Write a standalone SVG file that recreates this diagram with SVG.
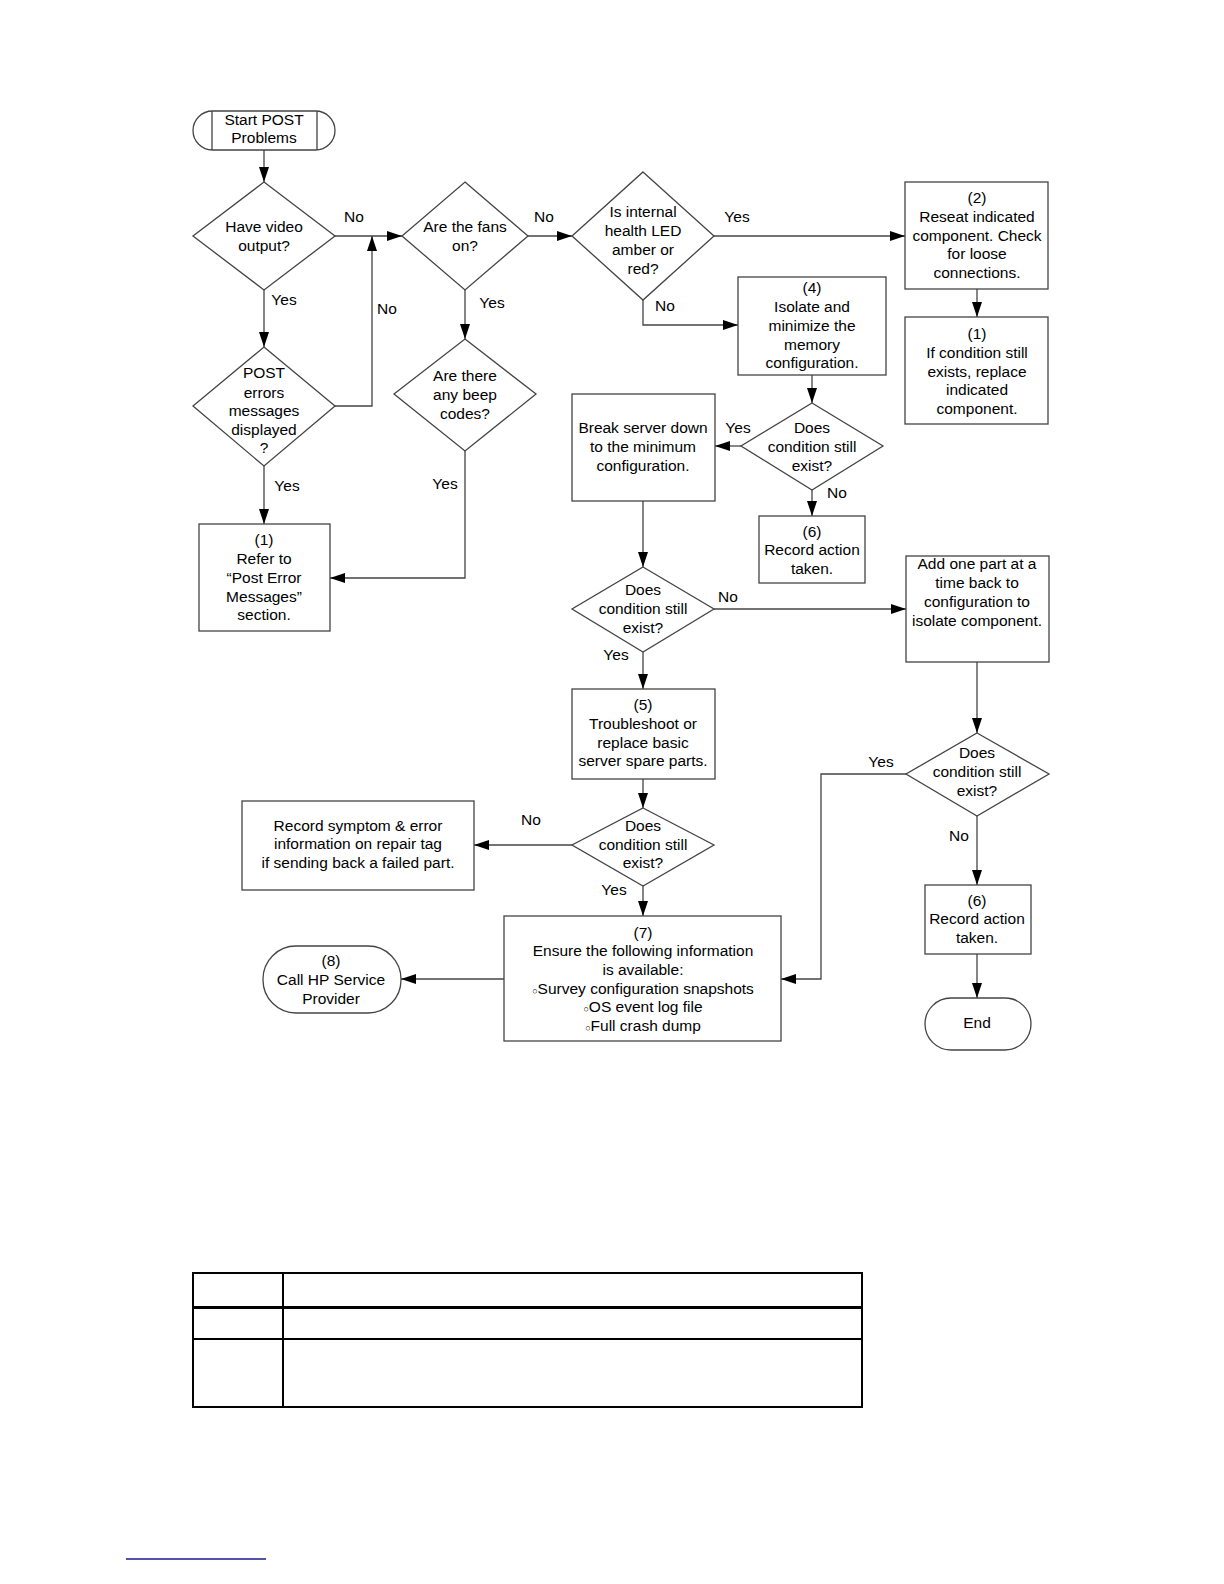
<svg xmlns="http://www.w3.org/2000/svg" width="1224" height="1584" viewBox="0 0 1224 1584">
<defs>
<marker id="ah" markerUnits="userSpaceOnUse" markerWidth="16" markerHeight="10" refX="15" refY="5" orient="auto">
<path d="M0,0 L15,5 L0,10 Z" fill="#000"/>
</marker>
</defs>
<style>
.s{fill:#fff;stroke:#444;stroke-width:1.3}
.c{fill:none;stroke:#444;stroke-width:1.3}
.a{marker-end:url(#ah)}
text{font-family:"Liberation Sans",Arial,sans-serif;font-size:15.5px;fill:#000}
.m{text-anchor:middle}
.t{stroke:#000;fill:none}
</style>
<rect width="1224" height="1584" fill="#fff"/>

<g id="connectors">
<path class="c a" d="M264,150 V182"/>
<path class="c a" d="M335,236 H402"/>
<path class="c a" d="M528,236 H572"/>
<path class="c a" d="M714,236 H905"/>
<path class="c a" d="M977,289 V317"/>
<path class="c a" d="M643,300 V325 H738"/>
<path class="c a" d="M812,375 V403"/>
<path class="c a" d="M741,446 H715"/>
<path class="c a" d="M812,490 V516"/>
<path class="c a" d="M643,501 V567"/>
<path class="c a" d="M714,609 H906"/>
<path class="c a" d="M977,662 V733"/>
<path class="c a" d="M906,774 H821 V979 H781"/>
<path class="c a" d="M977,816 V885"/>
<path class="c a" d="M977,954 V998"/>
<path class="c a" d="M643,652 V689"/>
<path class="c a" d="M643,779 V808"/>
<path class="c a" d="M572,845 H474"/>
<path class="c a" d="M643,886 V916"/>
<path class="c a" d="M504,979 H401"/>
<path class="c a" d="M264,290 V347"/>
<path class="c a" d="M335,406 H372 V236"/>
<path class="c a" d="M264,466 V524"/>
<path class="c a" d="M465,290 V339"/>
<path class="c a" d="M465,451 V578 H330"/>
<text x="354" y="222" class="m">No</text>
<text x="544" y="222" class="m">No</text>
<text x="737" y="222" class="m">Yes</text>
<text x="665" y="311" class="m">No</text>
<text x="738" y="433" class="m">Yes</text>
<text x="837" y="498" class="m">No</text>
<text x="728" y="602" class="m">No</text>
<text x="616" y="660" class="m">Yes</text>
<text x="881" y="767" class="m">Yes</text>
<text x="959" y="841" class="m">No</text>
<text x="531" y="825" class="m">No</text>
<text x="614" y="895" class="m">Yes</text>
<text x="284" y="305" class="m">Yes</text>
<text x="387" y="314" class="m">No</text>
<text x="287" y="491" class="m">Yes</text>
<text x="492" y="308" class="m">Yes</text>
<text x="445" y="489" class="m">Yes</text>
</g>

<g id="start">
<rect class="s" x="193" y="111" width="142" height="39" rx="19.5"/>
<path class="c" d="M212,111 V150 M317,111 V150"/>
<text x="264" y="120" class="m" dy="0.35em">Start POST</text>
<text x="264" y="138" class="m" dy="0.35em">Problems</text>
</g>

<g id="d_video">
<polygon class="s" points="264,182 335,236 264,290 193,236"/>
<text x="264" y="227" class="m" dy="0.35em">Have video</text>
<text x="264" y="246" class="m" dy="0.35em">output?</text>
</g>

<g id="d_fans">
<polygon class="s" points="465,182 528,236 465,290 402,236"/>
<text x="465" y="227" class="m" dy="0.35em">Are the fans</text>
<text x="465" y="246" class="m" dy="0.35em">on?</text>
</g>

<g id="d_led">
<polygon class="s" points="643,172 714,236 643,300 572,236"/>
<text x="643" y="212" class="m" dy="0.35em">Is internal</text>
<text x="643" y="231" class="m" dy="0.35em">health LED</text>
<text x="643" y="250" class="m" dy="0.35em">amber or</text>
<text x="643" y="269" class="m" dy="0.35em">red?</text>
</g>

<g id="b_reseat">
<rect class="s" x="905" y="182" width="143" height="107"/>
<text x="977" y="198" class="m" dy="0.35em">(2)</text>
<text x="977" y="217" class="m" dy="0.35em">Reseat indicated</text>
<text x="977" y="236" class="m" dy="0.35em">component. Check</text>
<text x="977" y="254" class="m" dy="0.35em">for loose</text>
<text x="977" y="273" class="m" dy="0.35em">connections.</text>
</g>

<g id="b_replace">
<rect class="s" x="905" y="317" width="143" height="107"/>
<text x="977" y="334" class="m" dy="0.35em">(1)</text>
<text x="977" y="353" class="m" dy="0.35em">If condition still</text>
<text x="977" y="372" class="m" dy="0.35em">exists, replace</text>
<text x="977" y="390" class="m" dy="0.35em">indicated</text>
<text x="977" y="409" class="m" dy="0.35em">component.</text>
</g>

<g id="b_memory">
<rect class="s" x="738" y="277" width="148" height="98"/>
<text x="812" y="288" class="m" dy="0.35em">(4)</text>
<text x="812" y="307" class="m" dy="0.35em">Isolate and</text>
<text x="812" y="326" class="m" dy="0.35em">minimize the</text>
<text x="812" y="345" class="m" dy="0.35em">memory</text>
<text x="812" y="363" class="m" dy="0.35em">configuration.</text>
</g>

<g id="d_cond1">
<polygon class="s" points="812,403 883,446 812,490 741,446"/>
<text x="812" y="428" class="m" dy="0.35em">Does</text>
<text x="812" y="447" class="m" dy="0.35em">condition still</text>
<text x="812" y="466" class="m" dy="0.35em">exist?</text>
</g>

<g id="b_break">
<rect class="s" x="572" y="394" width="143" height="107"/>
<text x="643" y="428" class="m" dy="0.35em">Break server down</text>
<text x="643" y="447" class="m" dy="0.35em">to the minimum</text>
<text x="643" y="466" class="m" dy="0.35em">configuration.</text>
</g>

<g id="b_record1">
<rect class="s" x="759" y="516" width="106" height="67"/>
<text x="812" y="532" class="m" dy="0.35em">(6)</text>
<text x="812" y="550" class="m" dy="0.35em">Record action</text>
<text x="812" y="569" class="m" dy="0.35em">taken.</text>
</g>

<g id="d_cond2">
<polygon class="s" points="643,567 714,609 643,652 572,609"/>
<text x="643" y="590" class="m" dy="0.35em">Does</text>
<text x="643" y="609" class="m" dy="0.35em">condition still</text>
<text x="643" y="628" class="m" dy="0.35em">exist?</text>
</g>

<g id="b_addpart">
<rect class="s" x="906" y="556" width="143" height="106"/>
<text x="977" y="564" class="m" dy="0.35em">Add one part at a</text>
<text x="977" y="583" class="m" dy="0.35em">time back to</text>
<text x="977" y="602" class="m" dy="0.35em">configuration to</text>
<text x="977" y="621" class="m" dy="0.35em">isolate component.</text>
</g>

<g id="d_cond3">
<polygon class="s" points="977,733 1049,774 977,816 906,774"/>
<text x="977" y="753" class="m" dy="0.35em">Does</text>
<text x="977" y="772" class="m" dy="0.35em">condition still</text>
<text x="977" y="791" class="m" dy="0.35em">exist?</text>
</g>

<g id="b_record2">
<rect class="s" x="925" y="885" width="106" height="69"/>
<text x="977" y="901" class="m" dy="0.35em">(6)</text>
<text x="977" y="919" class="m" dy="0.35em">Record action</text>
<text x="977" y="938" class="m" dy="0.35em">taken.</text>
</g>

<g id="end">
<rect class="s" x="925" y="998" width="106" height="52" rx="26"/>
<text x="977" y="1023" class="m" dy="0.35em">End</text>
</g>

<g id="b_troubleshoot">
<rect class="s" x="572" y="689" width="143" height="90"/>
<text x="643" y="705" class="m" dy="0.35em">(5)</text>
<text x="643" y="724" class="m" dy="0.35em">Troubleshoot or</text>
<text x="643" y="743" class="m" dy="0.35em">replace basic</text>
<text x="643" y="761" class="m" dy="0.35em">server spare parts.</text>
</g>

<g id="d_cond4">
<polygon class="s" points="643,808 714,845 643,886 572,845"/>
<text x="643" y="826" class="m" dy="0.35em">Does</text>
<text x="643" y="845" class="m" dy="0.35em">condition still</text>
<text x="643" y="863" class="m" dy="0.35em">exist?</text>
</g>

<g id="b_symptom">
<rect class="s" x="242" y="801" width="232" height="89"/>
<text x="358" y="826" class="m" dy="0.35em">Record symptom &amp; error</text>
<text x="358" y="844" class="m" dy="0.35em">information on repair tag</text>
<text x="358" y="863" class="m" dy="0.35em">if sending back a failed part.</text>
</g>

<g id="b_ensure">
<rect class="s" x="504" y="916" width="277" height="125"/>
<text x="643" y="933" class="m" dy="0.35em">(7)</text>
<text x="643" y="951" class="m" dy="0.35em">Ensure the following information</text>
<text x="643" y="970" class="m" dy="0.35em">is available:</text>
<text x="643" y="989" class="m" dy="0.35em"><tspan font-size="9">○</tspan>Survey configuration snapshots</text>
<text x="643" y="1007" class="m" dy="0.35em"><tspan font-size="9">○</tspan>OS event log file</text>
<text x="643" y="1026" class="m" dy="0.35em"><tspan font-size="9">○</tspan>Full crash dump</text>
</g>

<g id="callhp">
<rect class="s" x="263" y="946" width="138" height="67" rx="33"/>
<text x="331" y="961" class="m" dy="0.35em">(8)</text>
<text x="331" y="980" class="m" dy="0.35em">Call HP Service</text>
<text x="331" y="999" class="m" dy="0.35em">Provider</text>
</g>

<g id="d_post">
<polygon class="s" points="264,347 335,406 264,466 193,406"/>
<text x="264" y="373" class="m" dy="0.35em">POST</text>
<text x="264" y="393" class="m" dy="0.35em">errors</text>
<text x="264" y="411" class="m" dy="0.35em">messages</text>
<text x="264" y="430" class="m" dy="0.35em">displayed</text>
<text x="264" y="448" class="m" dy="0.35em">?</text>
</g>

<g id="b_refer">
<rect class="s" x="199" y="524" width="131" height="107"/>
<text x="264" y="540" class="m" dy="0.35em">(1)</text>
<text x="264" y="559" class="m" dy="0.35em">Refer to</text>
<text x="264" y="578" class="m" dy="0.35em">“Post Error</text>
<text x="264" y="597" class="m" dy="0.35em">Messages”</text>
<text x="264" y="615" class="m" dy="0.35em">section.</text>
</g>

<g id="d_beep">
<polygon class="s" points="465,339 536,394 465,451 394,394"/>
<text x="465" y="376" class="m" dy="0.35em">Are there</text>
<text x="465" y="395" class="m" dy="0.35em">any beep</text>
<text x="465" y="414" class="m" dy="0.35em">codes?</text>
</g>

<g id="table">
<rect x="193" y="1273" width="669" height="134" class="t" stroke-width="2"/>
<path class="t" stroke-width="2" d="M283,1273 V1407"/>
<path class="t" stroke-width="3" d="M193,1307.5 H862"/>
<path class="t" stroke-width="2" d="M193,1339 H862"/>
</g>

<path d="M126,1559 H266" stroke="#1a1a8c" stroke-width="1.5"/>
</svg>
